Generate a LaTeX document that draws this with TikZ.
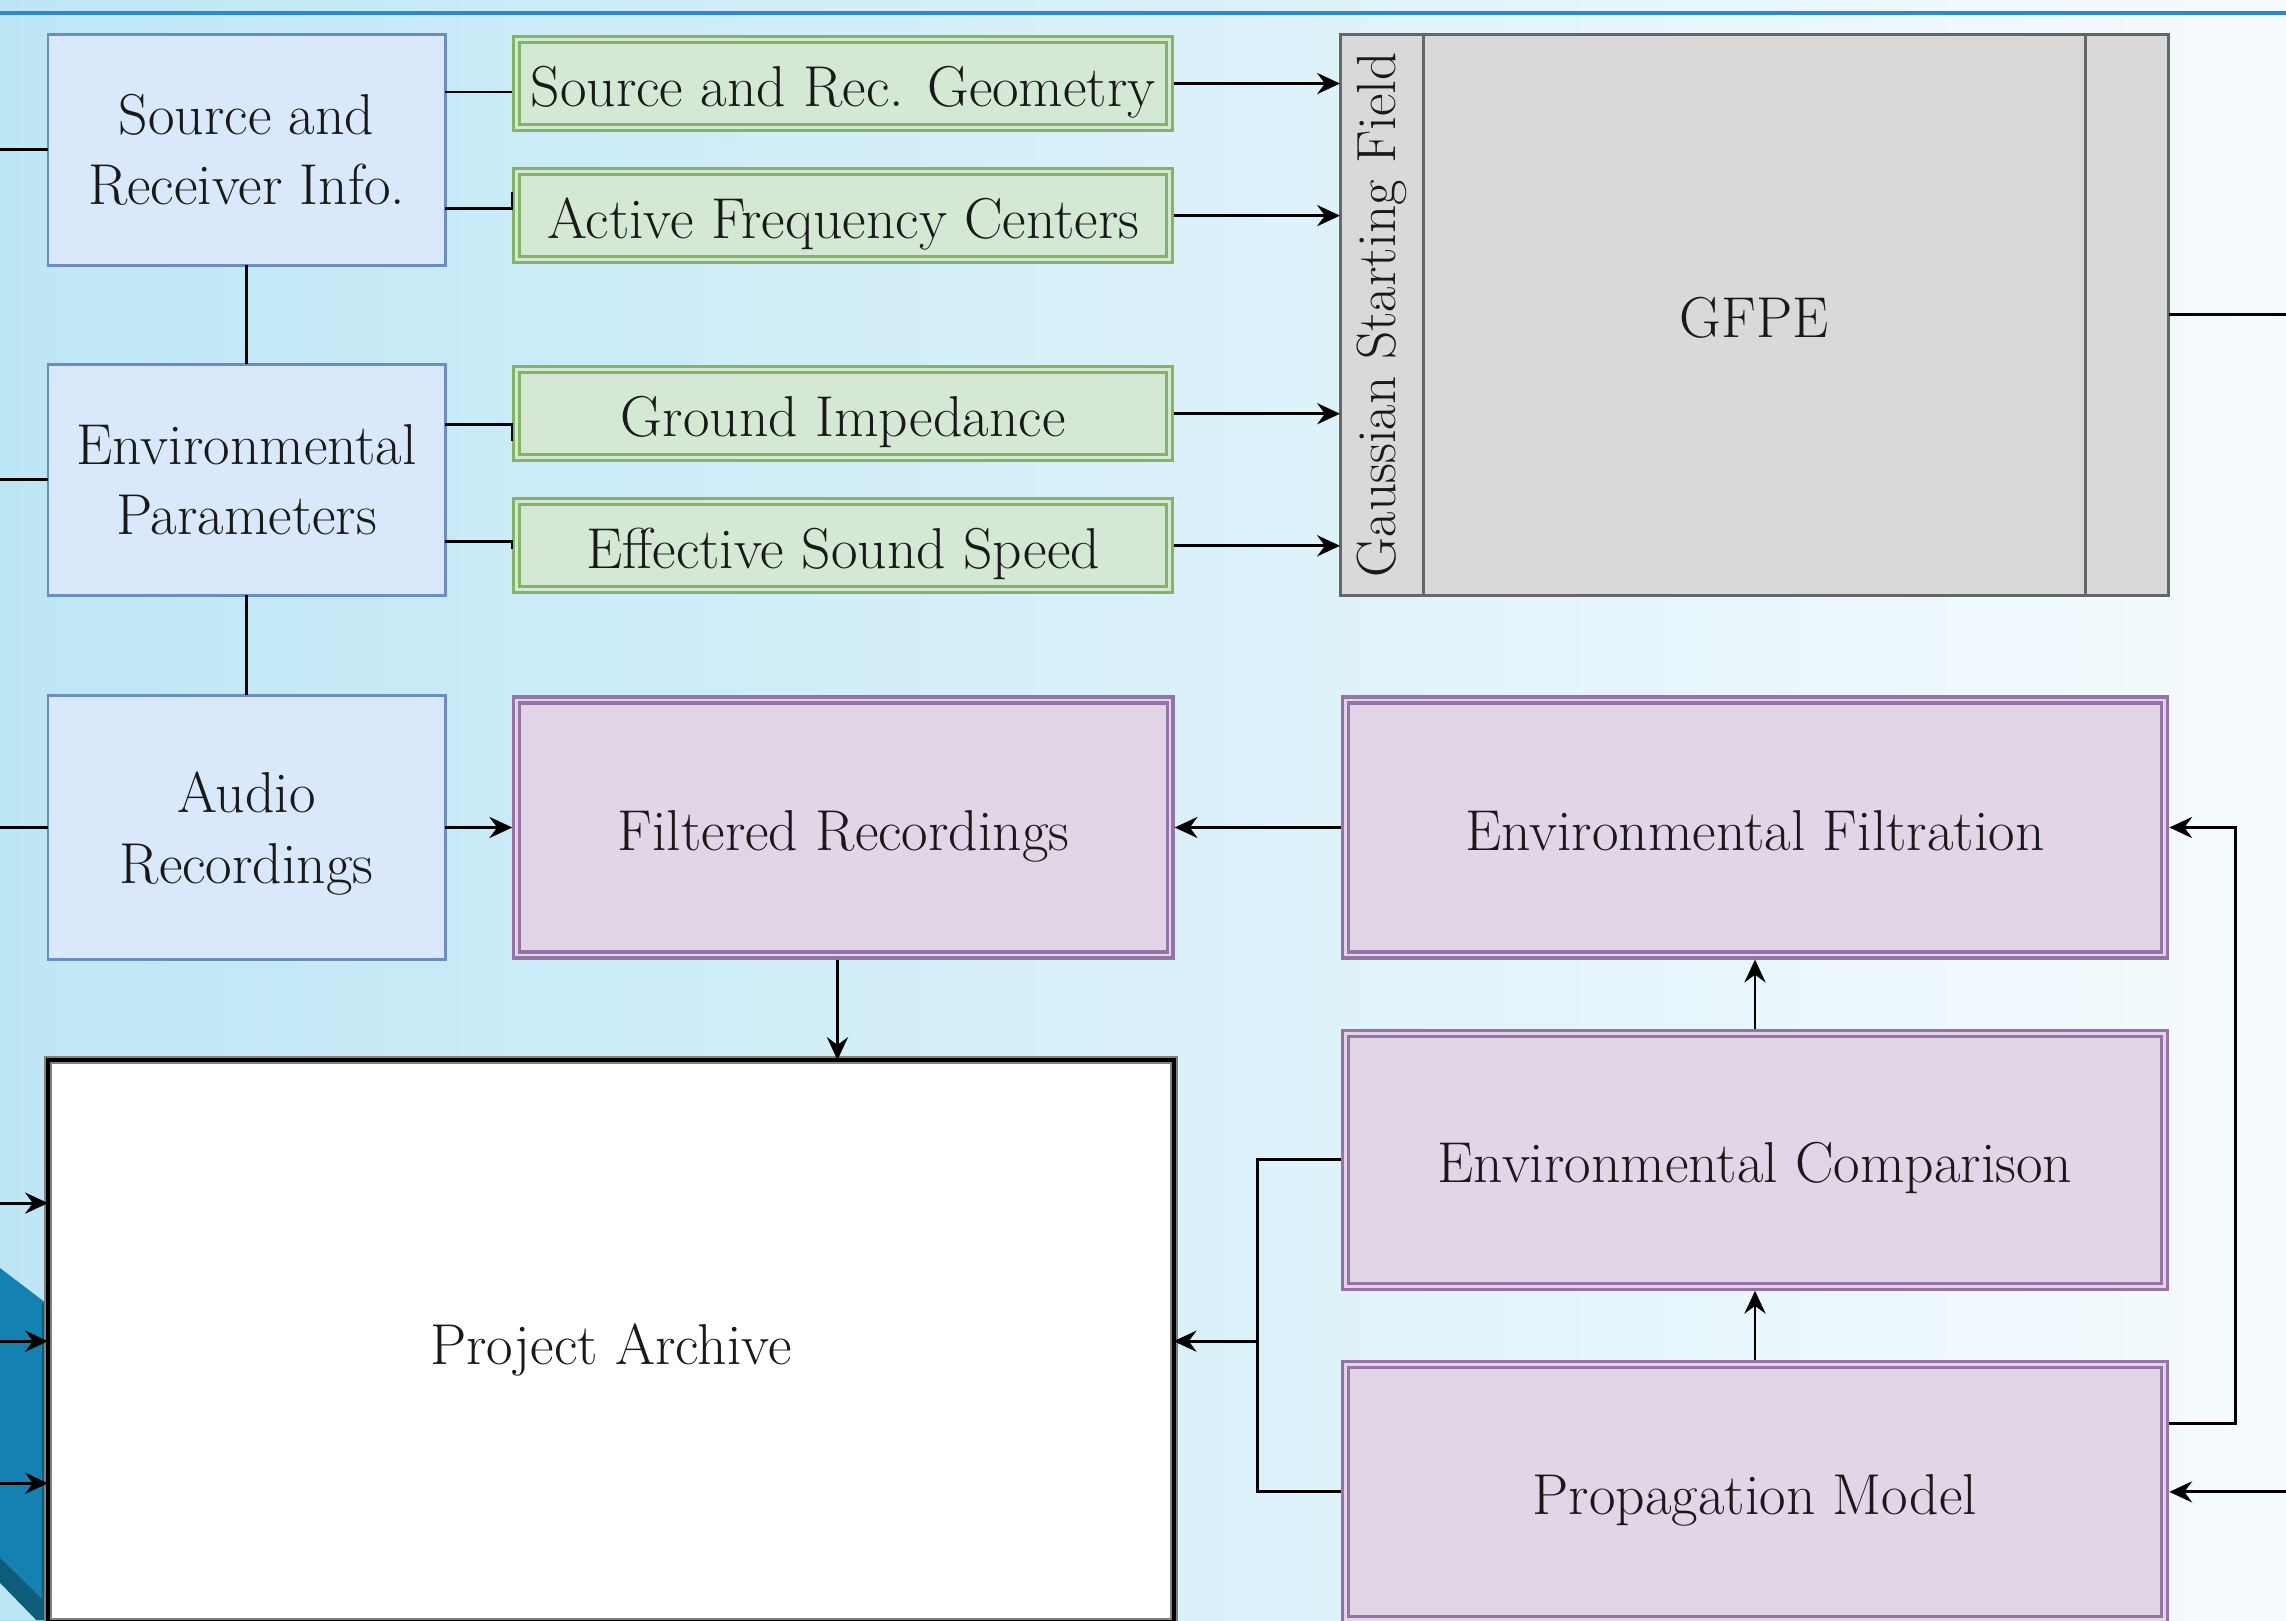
\documentclass[tikz,border=0pt]{standalone}
\usepackage{fontspec}
\usetikzlibrary{positioning,arrows.meta}

\definecolor{bgleft}{HTML}{BDE6F5}
\definecolor{bgmid}{HTML}{D6EFF9}
\definecolor{bgright}{HTML}{F6FBFE}
\definecolor{titleblue}{HTML}{2E88CC}
\definecolor{inblue}{HTML}{DAE8FC}
\definecolor{inbluedraw}{HTML}{6C8EBF}
\definecolor{ingreen}{HTML}{D5E8D4}
\definecolor{ingreendraw}{HTML}{82B366}
\definecolor{procpurple}{HTML}{E1D5E7}
\definecolor{procpurpledraw}{HTML}{9673A6}
\definecolor{solvergrey}{HTML}{D9D9D9}
\definecolor{solvergreydraw}{HTML}{666666}
\definecolor{bannerblue}{HTML}{1481B1}
\definecolor{bannerdark}{HTML}{0F5B7A}

\begin{document}
\begin{tikzpicture}[
	                  x = 0.01cm,
	                  y = -0.01cm,
	  every node/.style = {font=\fontsize{16.4}{20}\selectfont, text=black!90, inner sep=2pt, outer sep=0pt},
	     oneline/.style = {text height=13pt, text depth=0pt},
	    inputbox/.style = {draw=inbluedraw, fill=inblue, line width=0.85pt, minimum width=3.97cm, align=center,
	                       text depth=0pt},
	  paramgreen/.style = {oneline, draw=ingreendraw, double=ingreen, fill=ingreen, line width=0.9pt, double distance=0.8pt,
	                       outer sep=0.046cm, minimum width=6.528cm, minimum height=0.878cm},
	     process/.style = {oneline, draw=procpurpledraw, double=procpurple, fill=procpurple, line width=0.9pt,
	                       double distance=0.8pt, outer sep=0.046cm, minimum height=2.548cm},
	      solver/.style = {oneline, draw=solvergreydraw, fill=solvergrey, line width=0.85pt},
	   stripline/.style = {draw=solvergreydraw, line width=0.85pt},
	     archive/.style = {oneline, draw=gray, double=black, fill=white, line width=0.6pt, double distance=1.1pt,
	                       minimum width=11.25cm, minimum height=5.62cm},
	        conn/.style = {line width=0.8pt},
	         arr/.style = {conn, -{Stealth[length=6.5pt, width=6pt, inset=2.2pt]}}
	                     ]
	\useasboundingbox (0,0) rectangle (2286,1620);
	% backdrop
	\shade[left color=bgleft, middle color=bgmid, right color=bgright] (0,0) rectangle (2286,1620);
	\fill[bannerblue] (0,1268) -- (46,1303) -- (46,1620) -- (0,1620) -- cycle;
	\fill[bannerdark] (0,1558) -- (46,1603) -- (46,1620) -- (36,1620) -- (0,1583) -- cycle;
	\fill[bgleft] (0,1583) -- (36,1620) -- (0,1620) -- cycle;
	\fill[bannerdark] (42,1303) rectangle (46,1620);
	\draw[titleblue, line width=1.1pt] (0,13) -- (2286,13);

	\coordinate (lft) at (0,0);
	\coordinate (rgt) at (2286,0);

	% inputs
	\node[inputbox, minimum height=2.31cm, anchor=north west] (sri) at (48,34) {Source and\\Receiver Info.};
	\node[inputbox, minimum height=2.31cm, below=0.99cm of sri] (env) {Environmental\\Parameters};
	\node[inputbox, minimum height=2.64cm, below=1cm of env] (aud) {Audio\\Recordings};

	\node[paramgreen, anchor=north west] (geo) at (512,35) {Source and Rec. Geometry};
	\node[paramgreen, below=0.35cm of geo] (freq) {Active Frequency Centers};
	\node[paramgreen, below=1.01cm of freq] (imp) {Ground Impedance};
	\node[paramgreen, below=0.35cm of imp] (ceff) {Effective Sound Speed};

	% solver
	\node[solver, minimum width=8.28cm, minimum height=5.61cm, anchor=north west] (gfpe) at (1340,34) {GFPE};
	\draw[stripline] ([xshift=0.83cm]gfpe.north west) -- ([xshift=0.83cm]gfpe.south west);
	\draw[stripline] ([xshift=-0.83cm]gfpe.north east) -- ([xshift=-0.83cm]gfpe.south east);
	\node[rotate=90, font=\fontsize{15.7}{20}\selectfont] (gsf) at ([xshift=0.415cm]gfpe.west) {Gaussian Starting Field};

	% processing
	\node[process, minimum width=6.528cm, right=0.67cm of aud] (filt) {Filtered Recordings};
	\node[process, minimum width=8.188cm, right=1.66cm of filt] (envfilt) {Environmental Filtration};
	\node[process, minimum width=8.188cm, minimum height=2.528cm, below=0.69cm of envfilt] (envcomp) {Environmental Comparison};
	\node[process, minimum width=8.188cm, below=0.69cm of envcomp] (prop) {Propagation Model};

	\node[archive, anchor=north west] (arch) at (48,1060) {Project Archive};

	% connectors
	\foreach \b in {sri,env,aud}
		\draw[conn] (\b.west -| lft) -- (\b.west);
	\draw[conn] (sri.south) -- (env.north);
	\draw[conn] (env.south) -- (aud.north);

	\draw[conn] ([yshift=0.575cm]sri.east) -- ([yshift=0.575cm]sri.east -| geo.west);
	\draw[conn] ([yshift=-0.585cm]sri.east) -- ([yshift=-0.585cm]sri.east -| freq.west) -- ++(0,-16);
	\draw[conn] ([yshift=0.555cm]env.east) -- ([yshift=0.555cm]env.east -| imp.west) -- ++(0,17);
	\draw[conn] ([yshift=-0.615cm]env.east) -- ([yshift=-0.615cm]env.east -| ceff.west) -- ++(0,8);

	\foreach \g in {geo,freq,imp,ceff}
		\draw[arr] (\g.east) -- (\g.east -| gfpe.west);
	\draw[conn] (gfpe.east) -- (gfpe.east -| rgt);

	\draw[arr] (aud.east) -- (filt.west);
	\draw[arr] (envfilt.west) -- (filt.east);
	\draw[arr] ([xshift=-0.06cm]filt.south) -- ([xshift=-0.06cm]filt.south |- arch.north);
	\draw[arr] (envcomp.north) -- (envfilt.south);
	\draw[arr] (prop.north) -- (envcomp.south);

	\path (arch.east) -- (arch.east -| envcomp.west) coordinate[pos=0.5] (jn);
	\draw[conn] (envcomp.west) -| (jn) |- (prop.west);
	\draw[arr] (jn) -- (arch.east);

	\draw[arr] ([yshift=0.68cm]prop.east) -- ++(66,0) |- (envfilt.east);
	\draw[arr] (prop.east -| rgt) -- (prop.east);

	\foreach \dy in {1.38cm,0cm,-1.42cm}
		\draw[arr] ([yshift=\dy]arch.west -| lft) -- ([yshift=\dy]arch.west);
\end{tikzpicture}
\end{document}
